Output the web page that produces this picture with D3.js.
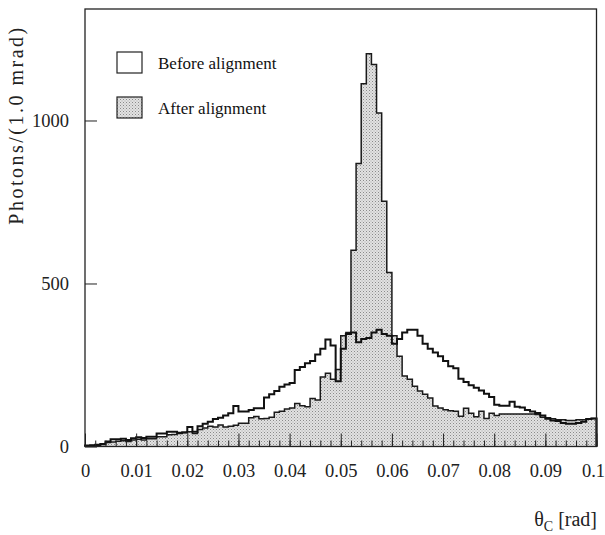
<!DOCTYPE html>
<html><head><meta charset="utf-8">
<script src="https://cdn.jsdelivr.net/npm/d3@7"></script>
<style>
html,body{margin:0;padding:0;background:#fff;}
svg{display:block;font-family:"Liberation Serif","DejaVu Serif",serif;}
</style></head>
<body>
<script>
// ---- data (photons per 1.0 mrad bin, theta_C from 0 to 0.1 rad) ----
const binWidth = 0.001;
const before = [3,4,5,8,15,22,22,24,20,25,28,26,30,30,40,40,45,45,42,44,
  60,45,62,70,76,84,88,95,102,124,107,107,112,117,117,150,160,170,183,190,
  195,235,244,255,262,282,300,328,310,200,300,345,350,320,330,333,350,358,345,340,
  315,330,350,358,358,340,315,300,288,277,262,246,240,208,198,188,180,172,162,152,
  128,125,125,137,122,120,112,107,103,95,85,80,78,72,70,70,72,76,84,86];
const after = [2,3,4,6,12,14,16,18,15,20,22,20,24,24,30,30,36,37,40,42,
  45,40,52,57,62,60,66,60,62,65,71,71,88,92,85,86,90,105,108,115,
  118,132,125,122,147,143,213,225,206,236,340,350,602,868,1113,1205,1172,1023,752,534,
  340,277,216,206,185,170,160,149,124,118,113,110,108,93,117,102,91,108,86,102,
  95,100,100,100,100,100,100,100,98,90,88,85,82,82,80,80,82,82,85,86];
const xTicks = [0,0.01,0.02,0.03,0.04,0.05,0.06,0.07,0.08,0.09,0.1];
const xTickLabels = ["0","0.01","0.02","0.03","0.04","0.05","0.06","0.07","0.08","0.09","0.1"];
const yTicks = [0,500,1000];
const legendLabels = ["Before alignment","After alignment"];

const W = 605, H = 535;
const m = {left:85, top:9, right:8.5, bottom:88.5};
const svg = d3.select("body").append("svg").attr("width",W).attr("height",H);

const defs = svg.append("defs");
const pat = defs.append("pattern").attr("id","stip").attr("patternUnits","userSpaceOnUse")
  .attr("width",3).attr("height",3);
pat.append("rect").attr("width",3).attr("height",3).attr("fill","#e2e2e2");
pat.append("rect").attr("x",0).attr("y",0).attr("width",1).attr("height",1).attr("fill","#8a8a8a");
pat.append("rect").attr("x",1.5).attr("y",1.5).attr("width",1).attr("height",1).attr("fill","#a8a8a8");

const x = d3.scaleLinear().domain([0,0.1]).range([m.left, W-m.right]);
const y = d3.scaleLinear().domain([0,1342]).range([H-m.bottom, m.top]);

function stepPts(vals){
  const pts = [[0,0]];
  vals.forEach((v,i)=>{ pts.push([i*binWidth, v]); });
  pts.push([vals.length*binWidth, vals[vals.length-1]]);
  pts.push([vals.length*binWidth, 0]);
  return pts;
}
const stepLine = d3.line().x(d=>x(d[0])).y(d=>y(d[1])).curve(d3.curveStepAfter);
const area = d3.area().x(d=>x(d[0])).y0(y(0)).y1(d=>y(d[1])).curve(d3.curveStepAfter);

const afterPts = stepPts(after);
svg.append("path").attr("d",area(afterPts)).attr("fill","url(#stip)");
svg.append("path").attr("d",stepLine(afterPts)).attr("fill","none")
  .attr("stroke","#1a1a1a").attr("stroke-width",1.5);

svg.append("path").attr("d",stepLine(stepPts(before))).attr("fill","none")
  .attr("stroke","#111").attr("stroke-width",2);

// axes (ticks pointing inward)
const minorX = d3.range(0,0.1001,0.002);
const xAxis = d3.axisBottom(x).tickValues(xTicks).tickSize(-13)
  .tickFormat((d,i)=>xTickLabels[i]).tickPadding(17);
const gx = svg.append("g").attr("transform",`translate(0,${H-m.bottom})`).call(xAxis);
gx.select(".domain").remove();
gx.selectAll("text").attr("font-size",18.5).attr("fill","#222")
  .attr("font-family","'Liberation Serif',serif");
gx.selectAll(".tick:last-of-type text").attr("text-anchor","end").attr("dx",8);
gx.selectAll(".tick line").attr("stroke","#222").attr("stroke-width",1);
const gxm = svg.append("g").attr("transform",`translate(0,${H-m.bottom})`)
  .call(d3.axisBottom(x).tickValues(minorX).tickSize(-6).tickFormat(""));
gxm.select(".domain").remove();
gxm.selectAll(".tick line").attr("stroke","#222").attr("stroke-width",1);

const yAxis = d3.axisLeft(y).tickValues(yTicks).tickSize(-12).tickPadding(16)
  .tickFormat(d3.format("d"));
const gy = svg.append("g").attr("transform",`translate(${m.left},0)`).call(yAxis);
gy.select(".domain").remove();
gy.selectAll("text").attr("font-size",18.5).attr("fill","#222")
  .attr("font-family","'Liberation Serif',serif");
gy.selectAll(".tick line").attr("stroke","#222").attr("stroke-width",1);

// frame
svg.append("rect").attr("x",m.left).attr("y",m.top)
  .attr("width",W-m.right-m.left).attr("height",H-m.bottom-m.top)
  .attr("fill","none").attr("stroke","#222").attr("stroke-width",1.3);

// legend
const lg = svg.append("g");
const lgY = [52,97];
legendLabels.forEach((t,i)=>{
  lg.append("rect").attr("x",117).attr("y",lgY[i]).attr("width",25).attr("height",21)
    .attr("fill", i===0 ? "#fff" : "url(#stip)").attr("stroke","#222").attr("stroke-width",1.2);
  lg.append("text").attr("x",158).attr("y",lgY[i]+17).text(t)
    .attr("font-size",17).attr("fill","#111");
});

// axis titles
svg.append("text").attr("transform","translate(23,125) rotate(-90)")
  .attr("text-anchor","middle").attr("font-size",20).attr("letter-spacing",2.5)
  .attr("fill","#222").text("Photons/(1.0 mrad)");
const xt = svg.append("text").attr("x",597).attr("y",526).attr("text-anchor","end")
  .attr("font-size",20).attr("fill","#222");
xt.append("tspan").text("θ");
xt.append("tspan").attr("font-size",14).attr("dy",5).text("C");
xt.append("tspan").attr("dy",-5).text(" [rad]");
</script>
</body></html>
